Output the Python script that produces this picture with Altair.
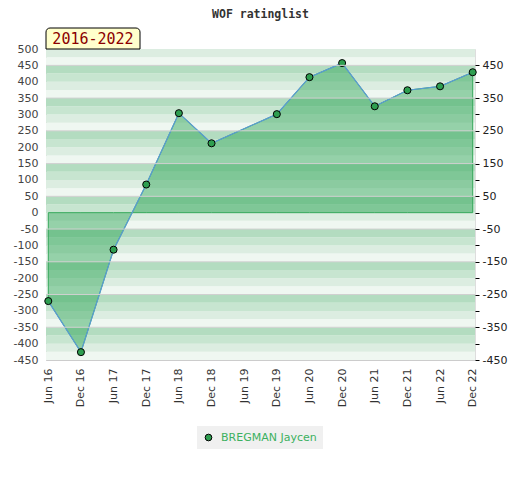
import altair as alt
import pandas as pd

# ---- data ----
months = ["Jun 16", "Dec 16", "Jun 17", "Dec 17", "Jun 18", "Dec 18", "Jun 19",
          "Dec 19", "Jun 20", "Dec 20", "Jun 21", "Dec 21", "Jun 22", "Dec 22"]
ratings = [-270, -426, -113, 86, 304, 212, None, 301, 414, 457, 325, 374, 386, 429]
player = "BREGMAN Jaycen"
period_label = "2016-2022"
chart_title = "WOF ratinglist"

left_ticks = [-450, -400, -350, -300, -250, -200, -150, -100, -50, 0,
              50, 100, 150, 200, 250, 300, 350, 400, 450, 500]
right_ticks = [-450, -400, -350, -300, -250, -200, -150, -100, -50, 0,
               50, 100, 150, 200, 250, 300, 350, 400, 450]
grid_values = [450, 350, 250, 150, 50, -50, -150, -250, -350]
band_starts = list(range(-450, 500, 25))
band_colors = {75: "#dcede1", 50: "#eff7f1", 25: "#b3dcc0", 0: "#c7e5d0"}

W, H = 429, 311
DOMAIN = [-450, 500]

df = pd.DataFrame({"month": months, "rating": ratings, "player": player})
df = df.dropna(subset=["rating"])

bands = pd.DataFrame({
    "lo": band_starts,
    "hi": [b + 25 for b in band_starts],
    "col": [band_colors[b % 100] for b in band_starts],
})
grid_df = pd.DataFrame({"v": grid_values})

yscale = alt.Scale(domain=DOMAIN, nice=False, zero=False)
xscale = alt.Scale(domain=months, type="point", padding=0.07)

left_axis = alt.Axis(values=left_ticks, ticks=False, grid=False,
                     labelOverlap=False, labelFlush=False,
                     labelExpr="'' + datum.value",
                     domainColor="#cccccc", labelColor="#444444",
                     labelFontSize=11, labelFont="DejaVu Sans",
                     labelPadding=8, minExtent=38, maxExtent=38,
                     title=None)
x_axis = alt.Axis(labelAngle=270, ticks=False, domainColor="#cccccc",
                  labelColor="#333333", labelFontSize=11,
                  labelFont="DejaVu Sans", labelPadding=8, title=None)

band_layer = alt.Chart(bands).mark_rect().encode(
    x=alt.value(0), x2=alt.value(W),
    y=alt.Y("lo:Q", scale=yscale, axis=left_axis),
    y2="hi:Q",
    color=alt.Color("col:N", scale=None),
)

area = alt.Chart(df).mark_area(
    fill="#29a253", fillOpacity=0.45, stroke="#34a85a", strokeWidth=1
).encode(
    x=alt.X("month:O", scale=xscale, sort=months, axis=x_axis),
    y=alt.Y("rating:Q", scale=yscale, axis=left_axis),
    y2=alt.datum(0),
)

line = alt.Chart(df).mark_line(color="#5b9bd5", strokeWidth=1.2).encode(
    x=alt.X("month:O", scale=xscale, sort=months, axis=x_axis),
    y=alt.Y("rating:Q", scale=yscale, axis=left_axis),
)

points = alt.Chart(df).mark_point(
    filled=True, size=50, stroke="black", strokeWidth=1, opacity=1
).encode(
    x=alt.X("month:O", scale=xscale, sort=months, axis=x_axis),
    y=alt.Y("rating:Q", scale=yscale, axis=left_axis),
    color=alt.Color("player:N", scale=alt.Scale(range=["#2e9e50"]),
                    legend=alt.Legend(
                        title=None, orient="none", legendX=151, legendY=377,
                        fillColor="#f0f0f0", padding=6, labelOffset=7,
                        labelColor="#3cb060", labelFontSize=11,
                        labelFont="DejaVu Sans", symbolType="circle",
                        symbolSize=45, symbolStrokeColor="black",
                        symbolStrokeWidth=1, symbolOpacity=1)),
)

main = alt.layer(band_layer, area, line, points)

grid = alt.Chart(grid_df).mark_rule(color="#d0d0d0", strokeWidth=1).encode(
    x=alt.value(0), x2=alt.value(W),
    y=alt.Y("v:Q", scale=yscale,
            axis=alt.Axis(orient="right", values=right_ticks,
                          labelExpr="datum.value % 100 == 0 ? '' : '' + datum.value",
                          labelOverlap=False, labelFlush=False,
                          tickSize=4, tickColor="black", domain=False,
                          grid=False, labelColor="#222222", labelFontSize=11,
                          labelFont="DejaVu Sans", labelPadding=3,
                          title=None)),
)

label_df = pd.DataFrame({"t": [period_label], "title": [chart_title]})
box = alt.Chart(label_df).mark_rect(
    fill="#ffffcc", stroke="black", strokeWidth=1,
    cornerRadiusTopLeft=4, cornerRadiusTopRight=4
).encode(x=alt.value(0), x2=alt.value(94), y=alt.value(-21), y2=alt.value(0))
box_text = alt.Chart(label_df).mark_text(
    font="DejaVu Sans Mono", fontSize=15, color="#8b0000", align="center",
    baseline="middle"
).encode(text="t:N", x=alt.value(47), y=alt.value(-10))
title_text = alt.Chart(label_df).mark_text(
    font="DejaVu Sans Mono", fontSize=11.5, fontWeight="bold", color="#333333",
    align="center", baseline="middle"
).encode(text="title:N", x=alt.value(W / 2), y=alt.value(-34))

chart = alt.layer(main, grid, box, box_text, title_text).resolve_scale(
    y="independent"
).properties(
    width=W, height=H,
    autosize=alt.AutoSizeParams(type="none"),
    padding={"left": 38, "top": 41, "right": 36, "bottom": 90},
).configure_view(stroke="#cccccc", strokeWidth=1.5).configure(
    background="white"
)

chart.save("out.html", embed_options={"renderer": "svg", "actions": False})
